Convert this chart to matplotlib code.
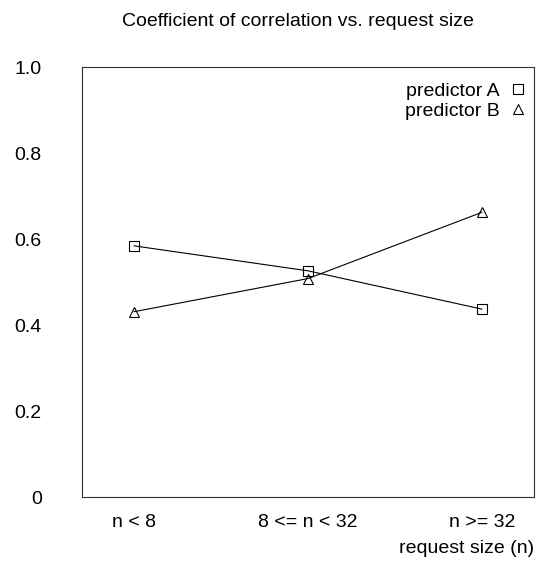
import matplotlib
matplotlib.use('Agg')
import matplotlib.pyplot as plt
from matplotlib.lines import Line2D

plt.rcParams['font.family'] = ['Liberation Sans', 'DejaVu Sans']

# correlation per request-size bucket
categories = ['n < 8', '8 <= n < 32', 'n >= 32']
predictor_a = [0.584, 0.526, 0.437]
predictor_b = [0.431, 0.508, 0.662]
yticks = [0, 0.2, 0.4, 0.6, 0.8, 1.0]
ytick_labels = ['0', '0.2', '0.4', '0.6', '0.8', '1.0']

W, H = 540, 565
fig = plt.figure(figsize=(W / 100, H / 100), dpi=100)
ax = fig.add_axes([82 / W, 1 - 497 / H, 452 / W, 430 / H])

x = list(range(len(categories)))
ax.plot(x, predictor_a, color='black', lw=0.8, marker='s', ms=6.5,
        mfc='none', mec='black', mew=0.8)
ax.plot(x, predictor_b, color='black', lw=0.8, marker='^', ms=7.5,
        mfc='none', mec='black', mew=0.8)

ax.set_xlim(-0.3, 2.3)
ax.set_ylim(0, 1.0)
ax.set_xticks(x)
ax.set_xticklabels(categories, fontsize=14)
ax.set_yticks(yticks)
ax.set_yticklabels(ytick_labels, fontsize=14)
ax.tick_params(axis='y', length=0, pad=29)
ax.tick_params(axis='x', length=0, pad=12)
for s in ax.spines.values():
    s.set_linewidth(0.8)
    s.set_color('#333333')

fig.text(298 / W, 1 - 26 / H, 'Coefficient of correlation vs. request size',
         fontsize=14, ha='center', va='baseline')
ax.set_xlabel('request size (n)', fontsize=14, loc='right', labelpad=7)

handles = [
    Line2D([], [], ls='none', marker='s', ms=6.5, mfc='none', mec='black', mew=0.8),
    Line2D([], [], ls='none', marker='^', ms=7, mfc='none', mec='black', mew=0.8),
]
ax.legend(handles, ['predictor A', 'predictor B'], loc='upper right',
          bbox_to_anchor=(1.004, 0.983), frameon=False, markerfirst=False,
          fontsize=14, handlelength=1.0, handletextpad=0.44,
          labelspacing=0.12, borderaxespad=0)

fig.savefig('out.png', dpi=100)
